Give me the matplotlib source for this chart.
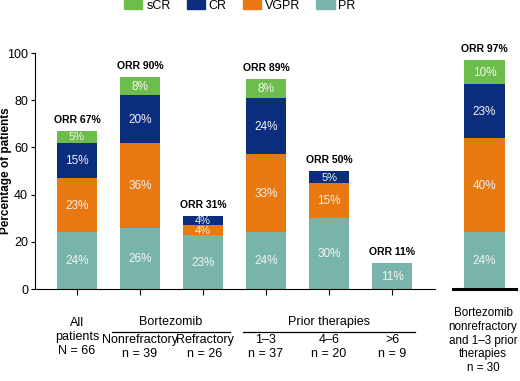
import matplotlib
matplotlib.use("Agg")
import matplotlib.pyplot as plt
from matplotlib.lines import Line2D
from matplotlib.patches import Patch

plt.rcParams["font.family"] = ["Liberation Sans", "DejaVu Sans"]

# podaci
groups = ["All patients", "Nonrefractory", "Refractory", "1-3", "4-6", ">6"]
pr = [24, 26, 23, 24, 30, 11]
vgpr = [23, 36, 4, 33, 15, 0]
cr = [15, 20, 4, 24, 5, 0]
scr = [5, 8, 0, 8, 0, 0]
orr = [67, 90, 31, 89, 50, 11]

extra_pr, extra_vgpr, extra_cr, extra_scr = 24, 40, 23, 10
extra_orr = 97

colors = {"sCR": "#6cbd4c", "CR": "#0b2d7e", "VGPR": "#e8780f", "PR": "#78b4a9"}

W, H = 520, 381
fig = plt.figure(figsize=(W / 100, H / 100), dpi=100)


def fx(px):
    return px / W


def fy(py):
    return 1 - py / H


ax = fig.add_axes([fx(35), fy(289), fx(435) - fx(35), fy(53) - fy(289)])
ax2 = fig.add_axes([fx(453), fy(289), fx(516) - fx(453), fy(53) - fy(289)])

x = list(range(len(groups)))
bw = 0.635


def stack(a, xs, layers, width):
    bottoms = [0] * len(xs)
    for vals, key in layers:
        bars = a.bar(xs, vals, width, bottom=bottoms, color=colors[key], linewidth=0)
        for b, v, bot in zip(bars, vals, bottoms):
            if v > 0:
                a.text(b.get_x() + b.get_width() / 2, bot + v / 2 - 0.3, f"{v}%",
                       ha="center", va="center", color="#f4f4f4",
                       fontsize=8.5 if v > 5 else 8)
        bottoms = [bb + v for bb, v in zip(bottoms, vals)]
    return bottoms


tops = stack(ax, x, [(pr, "PR"), (vgpr, "VGPR"), (cr, "CR"), (scr, "sCR")], bw)
for xi, t, o in zip(x, tops, orr):
    ax.text(xi, t + 2.5, f"ORR {o}%", ha="center", va="bottom",
            fontsize=7.5, fontweight="bold")

ax.set_xlim(-0.667, 5.68)
ax.set_ylim(0, 100)
ax.set_yticks([0, 20, 40, 60, 80, 100])
ax.set_xticks(x)
ax.set_xticklabels([])
ax.tick_params(axis="y", labelsize=9, length=3, pad=2)
ax.tick_params(axis="x", length=4, direction="out")
for s in ["top", "right"]:
    ax.spines[s].set_visible(False)
ax.set_ylabel("Percentage of patients", fontsize=8.5, fontweight="bold")
ax.yaxis.set_label_coords(-0.058, 0.5)

etops = stack(ax2, [0], [([extra_pr], "PR"), ([extra_vgpr], "VGPR"),
                         ([extra_cr], "CR"), ([extra_scr], "sCR")], 0.65)
ax2.text(0, etops[0] + 2.5, f"ORR {extra_orr}%", ha="center", va="bottom",
         fontsize=7.5, fontweight="bold")
ax2.set_xlim(-0.5, 0.5)
ax2.set_ylim(0, 100)
ax2.set_xticks([])
ax2.set_yticks([])
for s in ["top", "right", "left"]:
    ax2.spines[s].set_visible(False)
ax2.spines["bottom"].set_linewidth(2.2)

# legenda
handles = [Patch(color=colors[k], label=k) for k in ["sCR", "CR", "VGPR", "PR"]]
fig.legend(handles=handles, loc="upper center", bbox_to_anchor=(fx(240), 1.03),
           ncol=4, frameon=False, fontsize=9, handlelength=1.45, handleheight=0.75,
           columnspacing=1.3, handletextpad=0.3)

# oznake ispod
fs = 9
fig.text(fx(77), fy(317), "All\npatients\nN = 66", ha="center", va="top",
         fontsize=fs, linespacing=1.25)
fig.text(fx(171), fy(328), "Bortezomib", ha="center", va="bottom", fontsize=fs)
fig.add_artist(Line2D([fx(112), fx(230)], [fy(332), fy(332)], color="black", lw=0.9))
fig.text(fx(329), fy(328), "Prior therapies", ha="center", va="bottom", fontsize=fs)
fig.add_artist(Line2D([fx(243), fx(415)], [fy(332), fy(332)], color="black", lw=0.9))

sub = [("Nonrefractory\nn = 39", 140), ("Refractory\nn = 26", 205),
       ("1–3\nn = 37", 266), ("4–6\nn = 20", 329), (">6\nn = 9", 392)]
for txt, px in sub:
    fig.text(fx(px), fy(334), txt, ha="center", va="top", fontsize=fs, linespacing=1.25)

fig.text(fx(483), fy(307), "Bortezomib\nnonrefractory\nand 1–3 prior\ntherapies\nn = 30",
         ha="center", va="top", fontsize=8.4, linespacing=1.2)

plt.savefig("out.png", dpi=100)
